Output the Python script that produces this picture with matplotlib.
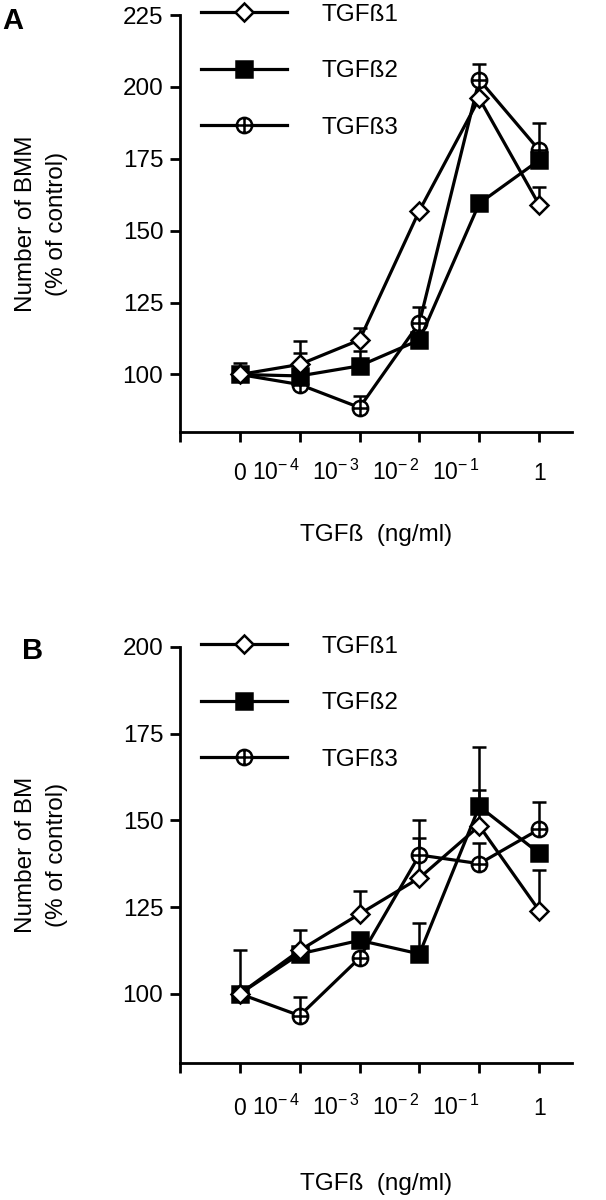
import numpy as np
import matplotlib
matplotlib.use('Agg')
import matplotlib.pyplot as plt
from matplotlib.path import Path

plt.rcParams['font.family'] = ['Liberation Sans', 'DejaVu Sans']
plt.rcParams['mathtext.fontset'] = 'custom'
plt.rcParams['mathtext.rm'] = 'Liberation Sans'
plt.rcParams['mathtext.it'] = 'Liberation Sans'
plt.rcParams['mathtext.default'] = 'regular'

# doses (categorical positions on x)
doses = ['0', r'$10^{-\,4}$', r'$10^{-\,3}$', r'$10^{-\,2}$', r'$10^{-\,1}$', '1']
series = ['TGFß1', 'TGFß2', 'TGFß3']

# Panel A: number of BMM (% of control)
bmm_t1 = [100, 103.5, 112, 157, 196, 159]
bmm_t2 = [100, 99.5, 103, 112, 159.5, 174.5]
bmm_t3 = [100, 96.5, 88.5, 118, 202.5, 178]
bmm_t1_err = [0, 8, 4, 0, 0, 6.3]
bmm_t2_err = [4, 8, 5, 0, 0, 0]
bmm_t3_err = [0, 0, 4, 5.6, 5.5, 9.6]

# Panel B: number of BM (% of control)
bm_t1 = [100, 112.5, 123, 133.4, 148.4, 124]
bm_t2 = [100, 111.5, 115.4, 111.5, 154, 140.5]
bm_t3 = [100, 93.7, 110.3, 140, 137.5, 147.4]
bm_t1_err = [0, 6, 6.5, 11.5, 10.3, 11.6]
bm_t2_err = [12.5, 0, 0, 9, 17, 0]
bm_t3_err = [0, 5.5, 0, 10, 6, 8]

# circle with a plus inside
circ = Path.unit_circle()
cross = Path([[-1, 0], [1, 0], [0, -1], [0, 1]],
             [Path.MOVETO, Path.LINETO, Path.MOVETO, Path.LINETO])
oplus = Path.make_compound_path(circ, cross)

styles = {
    'TGFß1': dict(marker='D', ms=9, mfc='white'),
    'TGFß2': dict(marker='s', ms=11, mfc='black'),
    'TGFß3': dict(marker=oplus, ms=11, mfc='white'),
}

FS = 17.5

fig = plt.figure(figsize=(6.06, 12), dpi=100)
axA = fig.add_axes([0.297, 0.64, 0.647, 0.3475])
axB = fig.add_axes([0.297, 0.114, 0.647, 0.347])

x = np.arange(len(doses))


def draw(ax, vals, errs, ylim, yticks, ylabel, xpad, xlabpad):
    handles = {}
    for name in ['TGFß3', 'TGFß2', 'TGFß1']:
        v = vals[name]
        e = errs[name]
        ax.errorbar(x, v, yerr=[np.zeros(len(e)), e], fmt='none',
                    ecolor='black', elinewidth=1.8, capsize=5, capthick=1.8,
                    zorder=2)
        ln, = ax.plot(x, v, color='black', lw=2.3, mec='black', mew=1.8,
                      zorder=3, label=name, **styles[name])
        handles[name] = ln
    ax.set_xlim(-1, 5.55)
    ax.set_ylim(*ylim)
    ax.set_yticks(yticks)
    ax.set_xticks(list(range(-1, 6)))
    ax.set_xticklabels([''] + doses)
    for i, lab in enumerate(ax.get_xticklabels()):
        lab.set_verticalalignment('baseline')
        lab.set_fontsize(16.5)
        if 2 <= i <= 5:
            lab.set_horizontalalignment('right')
    ax.spines['top'].set_visible(False)
    ax.spines['right'].set_visible(False)
    ax.spines['left'].set_linewidth(2)
    ax.spines['bottom'].set_linewidth(2)
    ax.tick_params(axis='y', width=2, length=7, labelsize=FS, pad=5)
    ax.tick_params(axis='x', width=2, length=7, pad=xpad)
    ax.set_xlabel('TGFß  (ng/ml)', fontsize=FS, labelpad=xlabpad)
    ax.set_ylabel(ylabel, fontsize=FS, linespacing=1.55)
    ax.yaxis.set_label_coords(-0.285, 0.5)
    ax.legend([handles[n] for n in series], series, loc='upper left',
              bbox_to_anchor=(0.03, 1.05), frameon=False, fontsize=FS,
              handlelength=3.5, handletextpad=1.45, labelspacing=1.42,
              borderaxespad=0)


draw(axA,
     {'TGFß1': bmm_t1, 'TGFß2': bmm_t2, 'TGFß3': bmm_t3},
     {'TGFß1': bmm_t1_err, 'TGFß2': bmm_t2_err, 'TGFß3': bmm_t3_err},
     (80, 225), [100, 125, 150, 175, 200, 225],
     'Number of BMM\n(% of control)', 27.5, 28)
draw(axB,
     {'TGFß1': bm_t1, 'TGFß2': bm_t2, 'TGFß3': bm_t3},
     {'TGFß1': bm_t1_err, 'TGFß2': bm_t2_err, 'TGFß3': bm_t3_err},
     (80, 200), [100, 125, 150, 175, 200],
     'Number of BM\n(% of control)', 30.5, 38)

fig.text(0.004, 0.994, 'A', fontsize=21, fontweight='bold', va='top')
fig.text(0.036, 0.469, 'B', fontsize=21, fontweight='bold', va='top')

fig.savefig('out.png', dpi=100)
